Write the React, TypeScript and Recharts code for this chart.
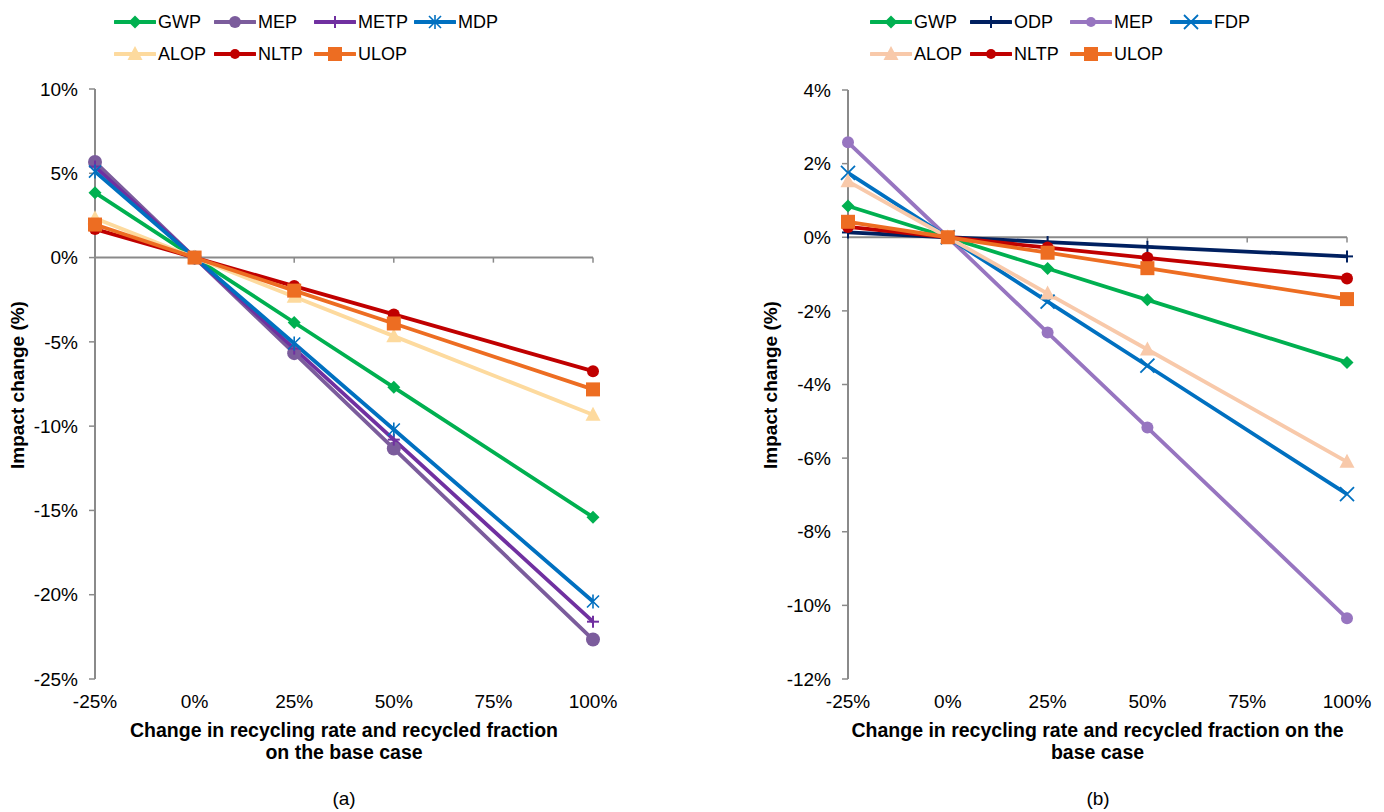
import React from 'react';
import { LineChart, Line, XAxis, YAxis, ReferenceLine, Label } from 'recharts';

// x positions (change in recycling rate / recycled fraction, %)
const xValues = [-25, 0, 25, 50, 100];
const xTicks = [-25, 0, 25, 50, 75, 100];

// chart (a) impact change, %
const aGWP = [3.85, 0, -3.85, -7.7, -15.4];
const aMEP = [5.67, 0, -5.67, -11.33, -22.66];
const aMETP = [5.4, 0, -5.4, -10.8, -21.6];
const aMDP = [5.1, 0, -5.1, -10.2, -20.4];
const aALOP = [2.33, 0, -2.33, -4.66, -9.32];
const aNLTP = [1.69, 0, -1.69, -3.37, -6.74];
const aULOP = [1.96, 0, -1.96, -3.91, -7.82];
const aTicks = [-25, -20, -15, -10, -5, 0, 5, 10];

// chart (b) impact change, %
const bGWP = [0.85, 0, -0.85, -1.7, -3.4];
const bODP = [0.13, 0, -0.13, -0.26, -0.52];
const bMEP = [2.58, 0, -2.59, -5.17, -10.35];
const bFDP = [1.75, 0, -1.75, -3.49, -6.98];
const bALOP = [1.52, 0, -1.53, -3.05, -6.1];
const bNLTP = [0.28, 0, -0.28, -0.56, -1.12];
const bULOP = [0.42, 0, -0.42, -0.84, -1.68];
const bTicks = [-12, -10, -8, -6, -4, -2, 0, 2, 4];

const AXIS = '#8a8a8a';
const FONT = '"Liberation Sans", Arial, sans-serif';

type Shape = 'diamond' | 'circle' | 'plus' | 'star' | 'triangle' | 'square' | 'x';

type SeriesDef = { key: string; color: string; shape: Shape; values: number[]; size?: number };

const seriesA: SeriesDef[] = [
  { key: 'GWP', color: '#00b050', shape: 'diamond', values: aGWP },
  { key: 'MEP', color: '#7b5c9c', shape: 'circle', values: aMEP, size: 7 },
  { key: 'METP', color: '#7030a0', shape: 'plus', values: aMETP },
  { key: 'MDP', color: '#0070c0', shape: 'star', values: aMDP },
  { key: 'ALOP', color: '#fdda9e', shape: 'triangle', values: aALOP },
  { key: 'NLTP', color: '#c00000', shape: 'circle', values: aNLTP, size: 6 },
  { key: 'ULOP', color: '#ed6d22', shape: 'square', values: aULOP }
];

const seriesB: SeriesDef[] = [
  { key: 'GWP', color: '#00b050', shape: 'diamond', values: bGWP },
  { key: 'ODP', color: '#002060', shape: 'plus', values: bODP },
  { key: 'MEP', color: '#9775c0', shape: 'circle', values: bMEP, size: 6 },
  { key: 'FDP', color: '#0070c0', shape: 'x', values: bFDP },
  { key: 'ALOP', color: '#f8c9aa', shape: 'triangle', values: bALOP },
  { key: 'NLTP', color: '#c00000', shape: 'circle', values: bNLTP, size: 6 },
  { key: 'ULOP', color: '#ed6d22', shape: 'square', values: bULOP }
];

const Marker = ({ shape, cx, cy, color, size = 6 }: { shape: Shape; cx: number; cy: number; color: string; size?: number }) => {
  switch (shape) {
    case 'diamond':
      return <polygon points={`${cx},${cy - 6.5} ${cx + 6.5},${cy} ${cx},${cy + 6.5} ${cx - 6.5},${cy}`} fill={color} />;
    case 'circle':
      return <circle cx={cx} cy={cy} r={size} fill={color} />;
    case 'plus':
      return (
        <g stroke={color} strokeWidth={2}>
          <line x1={cx - 6} y1={cy} x2={cx + 6} y2={cy} />
          <line x1={cx} y1={cy - 6} x2={cx} y2={cy + 6} />
        </g>
      );
    case 'star':
      return (
        <g stroke={color} strokeWidth={1.6}>
          <line x1={cx} y1={cy - 7} x2={cx} y2={cy + 7} />
          <line x1={cx - 6} y1={cy - 6} x2={cx + 6} y2={cy + 6} />
          <line x1={cx - 6} y1={cy + 6} x2={cx + 6} y2={cy - 6} />
        </g>
      );
    case 'x':
      return (
        <g stroke={color} strokeWidth={1.8}>
          <line x1={cx - 7} y1={cy - 7} x2={cx + 7} y2={cy + 7} />
          <line x1={cx - 7} y1={cy + 7} x2={cx + 7} y2={cy - 7} />
        </g>
      );
    case 'triangle':
      return <polygon points={`${cx},${cy - 8} ${cx + 7.5},${cy + 6} ${cx - 7.5},${cy + 6}`} fill={color} />;
    case 'square':
      return <rect x={cx - 7} y={cy - 7} width={14} height={14} fill={color} />;
  }
  return null;
};

const makeDot = (s: SeriesDef) => (p: any) => (
  <Marker key={`${s.key}-${p.index}`} shape={s.shape} cx={p.cx} cy={p.cy} color={s.color} size={s.size} />
);

const LegendBox = ({ items, left }: { items: SeriesDef[]; left: number }) => (
  <div
    style={{
      position: 'absolute',
      left,
      top: 6,
      width: 400,
      display: 'flex',
      flexWrap: 'wrap',
      fontFamily: FONT,
      fontSize: 18
    }}
  >
    {items.map((s) => (
      <div key={s.key} style={{ width: 100, height: 32, display: 'flex', alignItems: 'center' }}>
        <svg width={42} height={20}>
          <line x1={1} y1={10} x2={41} y2={10} stroke={s.color} strokeWidth={4} strokeLinecap="round" />
          <Marker shape={s.shape} cx={21} cy={10} color={s.color} size={s.size ? s.size - 1 : 5} />
        </svg>
        <span style={{ marginLeft: 2 }}>{s.key}</span>
      </div>
    ))}
  </div>
);

const XLabel = ({ viewBox, lines }: any) => {
  const cx = viewBox.x + viewBox.width / 2;
  return (
    <text x={cx} y={viewBox.y + 58} textAnchor="middle" fontFamily={FONT} fontWeight="bold" fontSize={19.5} fill="#000">
      {lines.map((l: string, i: number) => (
        <tspan key={i} x={cx} dy={i === 0 ? 0 : 22}>
          {l}
        </tspan>
      ))}
    </text>
  );
};

const YLabel = ({ viewBox }: any) => {
  const x = viewBox.x - 11;
  const y = 385;
  return (
    <text
      x={x}
      y={y}
      transform={`rotate(-90, ${x}, ${y})`}
      textAnchor="middle"
      fontFamily={FONT}
      fontWeight="bold"
      fontSize={19}
      fill="#000"
    >
      Impact change (%)
    </text>
  );
};

type PanelProps = {
  series: SeriesDef[];
  yTicks: number[];
  tickDrop: number;
  marginLeft: number;
  marginRight: number;
  top: number;
  xLabel: string[];
};

const Panel = ({ series, yTicks, tickDrop, marginLeft, marginRight, top, xLabel }: PanelProps) => {
  const data = xValues.map((x, i) => {
    const row: Record<string, number> = { x };
    series.forEach((s) => (row[s.key] = s.values[i]));
    return row;
  });
  const tickStyle = { fontFamily: FONT, fontSize: 19, fill: '#000' };
  return (
    <LineChart width={692} height={812} data={data} margin={{ top, right: marginRight, left: marginLeft, bottom: 103 }}>
      <XAxis
        dataKey="x"
        type="number"
        domain={[-25, 100]}
        ticks={xTicks}
        tickFormatter={(v) => `${v}%`}
        axisLine={false}
        tickLine={false}
        tick={tickStyle}
        tickMargin={10}
        height={30}
        interval={0}
      >
        <Label content={(p: any) => <XLabel {...p} lines={xLabel} />} />
      </XAxis>
      <YAxis
        type="number"
        domain={[yTicks[0], yTicks[yTicks.length - 1]]}
        ticks={yTicks}
        tickFormatter={(v) => `${v}%`}
        axisLine={{ stroke: AXIS, strokeWidth: 2 }}
        tickLine={{ stroke: AXIS, strokeWidth: 1.5 }}
        tickSize={6}
        tickMargin={11}
        tick={tickStyle}
        width={60}
        interval={0}
      >
        <Label content={(p: any) => <YLabel {...p} />} />
      </YAxis>
      <ReferenceLine y={0} stroke={AXIS} strokeWidth={2} />
      {xTicks.slice(1).map((t) => (
        <ReferenceLine
          key={t}
          segment={[
            { x: t, y: 0 },
            { x: t, y: -tickDrop }
          ]}
          stroke={AXIS}
          strokeWidth={1.5}
        />
      ))}
      {series.map((s) => (
        <Line
          key={s.key}
          dataKey={s.key}
          type="linear"
          stroke={s.color}
          strokeWidth={3.8}
          dot={makeDot(s)}
          activeDot={false}
          isAnimationActive={false}
        />
      ))}
    </LineChart>
  );
};

const Caption = ({ text, left }: { text: string; left: number }) => (
  <div
    style={{
      position: 'absolute',
      left: left - 40,
      width: 80,
      top: 788,
      textAlign: 'center',
      fontFamily: FONT,
      fontSize: 19
    }}
  >
    {text}
  </div>
);

export default function App() {
  return (
    <div style={{ position: 'absolute', left: 0, top: 0, width: 1384, height: 812, background: '#fff', overflow: 'hidden' }}>
      <div style={{ position: 'absolute', left: 0, top: 0 }}>
        <Panel
          series={seriesA}
          yTicks={aTicks}
          tickDrop={0.3}
          marginLeft={35}
          marginRight={99}
          top={89}
          xLabel={['Change in recycling rate and recycled fraction', 'on the base case']}
        />
      </div>
      <div style={{ position: 'absolute', left: 692, top: 0 }}>
        <Panel
          series={seriesB}
          yTicks={bTicks}
          tickDrop={0.14}
          marginLeft={96}
          marginRight={37}
          top={90}
          xLabel={['Change in recycling rate and recycled fraction on the', 'base case']}
        />
      </div>
      <LegendBox items={seriesA} left={114} />
      <LegendBox items={seriesB} left={870} />
      <Caption text="(a)" left={344} />
      <Caption text="(b)" left={1098} />
    </div>
  );
}
